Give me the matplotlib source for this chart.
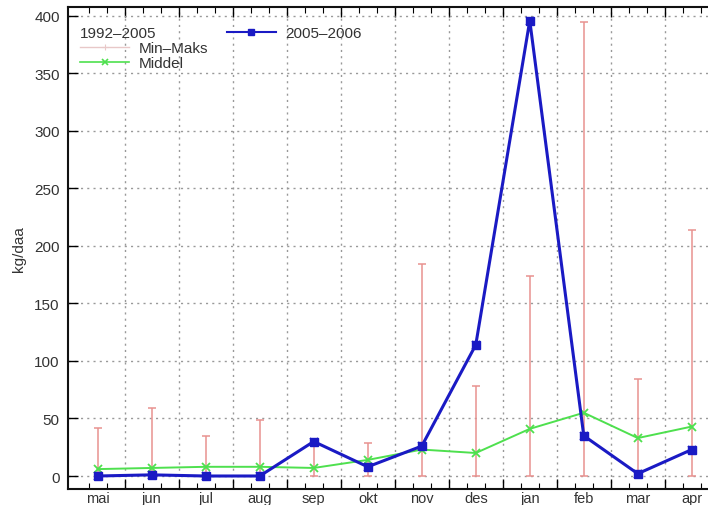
import numpy as np
import matplotlib
matplotlib.use('Agg')
import matplotlib.pyplot as plt
from matplotlib.lines import Line2D

plt.rcParams['font.family'] = ['Liberation Sans', 'DejaVu Sans']

months = ['mai', 'jun', 'jul', 'aug', 'sep', 'okt', 'nov', 'des', 'jan', 'feb', 'mar', 'apr']
season_2005_2006 = [0, 1, 0, 0, 30, 8, 26, 114, 396, 35, 2, 23]
middel = [6, 7, 8, 8, 7, 14, 23, 20, 41, 55, 33, 43]
minimum = [0, 0, 0, 0, 0, 0, 0, 0, 0, 0, 0, 0]
maksimum = [42, 59, 35, 49, 30, 29, 184, 78, 174, 395, 84, 214]
yticks = [0, 50, 100, 150, 200, 250, 300, 350, 400]

red = '#e89290'
green = '#4ee04e'
blue = '#1a1ac4'
txt = '#333333'

fig = plt.figure(figsize=(7.08, 5.06), dpi=100)
# the frame runs on past the right edge of the figure
ax = fig.add_axes([68 / 708, 16 / 506, 667 / 708, 482 / 506])

x = np.arange(len(months))
mid = np.array(middel)
lo = mid - np.array(minimum)
hi = np.array(maksimum) - mid

ax.errorbar(x, mid, yerr=[lo, hi], fmt='none', ecolor=red, elinewidth=1.1,
            capsize=3, capthick=1.1, zorder=2)
ax.plot(x, middel, color=green, lw=1.4, marker='x', ms=6, mew=1.3, zorder=3)
ax.plot(x, season_2005_2006, color=blue, lw=2.2, marker='s', ms=6, zorder=4)
ax.plot(x, season_2005_2006, color=blue, lw=0, marker='x', ms=6, mew=1.2, zorder=5)

ax.set_xlim(-0.55, 11.8)
ax.set_ylim(-11.3, 407.8)

# month boundaries get the long ticks and the grid, labels sit in between
bounds = np.arange(0.5, 12.0, 1.0)
ax.set_xticks(bounds)
ax.set_xticklabels([])
ax.set_xticks(x, minor=True)
ax.set_xticklabels(months, minor=True)
ax.tick_params(axis='x', which='major', direction='in', length=7, width=1,
               top=True, bottom=True)
ax.tick_params(axis='x', which='minor', length=0, pad=1.5, labelsize=10.5, labelcolor=txt)

starts = np.arange(-0.5, 12.0)
thirds = np.sort(np.concatenate([starts + 1 / 3, starts + 2 / 3]))
for side in ['bottom', 'top']:
    sec = ax.secondary_xaxis(side)
    sec.set_xticks(thirds)
    sec.set_xticklabels([])
    sec.tick_params(direction='in', length=4, width=0.8)
    sec.spines[side].set_visible(False)

ax.set_yticks(yticks)
ax.tick_params(axis='y', direction='in', length=7, width=1, left=True, right=False,
               labelsize=11, labelcolor=txt, pad=6)
ax.set_ylabel('kg/daa', fontsize=11, color=txt, labelpad=6)

ax.grid(True, color='#999999', ls=(0, (1.5, 3)), lw=1.0)
ax.set_axisbelow(True)
for s in ax.spines.values():
    s.set_linewidth(1.5)
    s.set_color('#111111')
ax.spines['right'].set_visible(False)

h1 = Line2D([], [], color='#e8c8c8', lw=1, marker='+', ms=5, mew=0.8)
h2 = Line2D([], [], color=green, lw=1.2, marker='x', ms=5, mew=1.2)
leg1 = ax.legend([h1, h2], ['Min\u2013Maks', 'Middel'], title='1992\u20132005',
                 loc='upper left', bbox_to_anchor=(0.0, 0.985), frameon=False,
                 fontsize=11, title_fontsize=11, alignment='left',
                 handlelength=3.2, handletextpad=0.6, labelspacing=0.05,
                 borderaxespad=0.4)
for t in leg1.get_texts():
    t.set_color(txt)
leg1.get_title().set_color(txt)
ax.add_artist(leg1)

h3 = Line2D([], [], color=blue, lw=1.5, marker='s', ms=5)
leg2 = ax.legend([h3], ['2005\u20132006'], loc='upper left',
                 bbox_to_anchor=(0.22, 0.985), frameon=False, fontsize=11,
                 handlelength=3.2, handletextpad=0.6, borderaxespad=0.4)
for t in leg2.get_texts():
    t.set_color(txt)

fig.savefig('out.png', dpi=100)
